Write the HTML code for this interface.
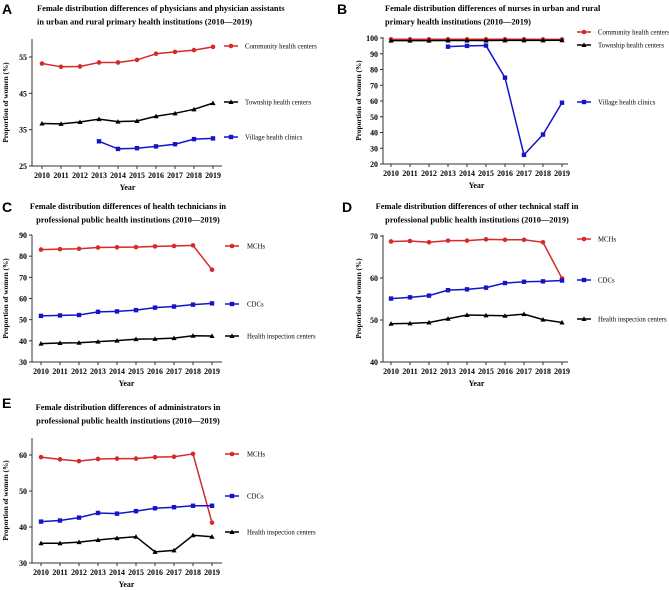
<!DOCTYPE html>
<html><head><meta charset="utf-8"><style>
body{margin:0;background:#fff;width:669px;height:590px;overflow:hidden}
svg{display:block}
text{font-family:"Liberation Serif",serif}
.t{font-weight:bold;font-size:8.4px}
.tk{font-weight:bold;font-size:7.9px}
.yt{font-weight:bold;font-size:7.3px}
.lg{font-size:6.8px}
.lt{font-family:"Liberation Sans",sans-serif;font-weight:bold;font-size:14px}
</style></head><body>
<svg id="c" width="669" height="590"></svg>
<script>
const years=[2010,2011,2012,2013,2014,2015,2016,2017,2018,2019];
const aCommunity=[53.2,52.3,52.4,53.5,53.5,54.2,55.9,56.4,56.9,57.8];
const aTownship=[36.7,36.6,37.1,37.9,37.2,37.4,38.7,39.5,40.6,42.3];
const aVillage=[null,null,null,31.8,29.7,29.9,30.4,31.0,32.4,32.6];
const bCommunity=[99.2,99.2,99.2,99.2,99.2,99.2,99.2,99.2,99.1,99.1];
const bTownship=[98.3,98.3,98.3,98.4,98.4,98.4,98.5,98.5,98.5,98.6];
const bVillage=[null,null,null,94.5,95.0,95.2,74.8,25.8,38.7,58.9];
const cMCH=[83.1,83.3,83.5,84.1,84.2,84.3,84.6,84.8,85.1,73.6];
const cCDC=[51.8,52.0,52.2,53.7,53.9,54.5,55.7,56.2,57.1,57.7];
const cHIC=[38.7,39.0,39.1,39.6,40.1,40.8,40.9,41.3,42.4,42.3];
const dMCH=[68.7,68.8,68.5,68.9,68.9,69.2,69.1,69.1,68.5,59.9];
const dCDC=[55.1,55.4,55.8,57.1,57.3,57.7,58.8,59.1,59.2,59.4];
const dHIC=[49.1,49.2,49.4,50.3,51.2,51.1,51.0,51.4,50.1,49.4];
const eMCH=[59.4,58.8,58.3,58.9,59.0,59.0,59.4,59.5,60.3,41.2];
const eCDC=[41.5,41.8,42.6,43.9,43.7,44.4,45.2,45.5,45.9,45.9];
const eHIC=[35.5,35.5,35.8,36.4,36.9,37.3,33.1,33.5,37.7,37.3];
const aTicks=[25,35,45,55], bTicks=[20,30,40,50,60,70,80,90,100], cTicks=[30,40,50,60,70,80,90], dTicks=[40,50,60,70], eTicks=[30,40,50,60];
const NS='http://www.w3.org/2000/svg', svg=document.getElementById('c');
function mk(tag,at,txt){const e=document.createElementNS(NS,tag);for(const k in at)e.setAttribute(k,at[k]);if(txt!=null)e.textContent=txt;svg.appendChild(e);return e;}
const RED='#d42a2a',BLK='#000',BLU='#1414c8';
function marker(x,y,c,shape,name){let e;
 if(shape==='c')e=mk('circle',{cx:x,cy:y,r:2.3,fill:c});
 else if(shape==='s')e=mk('rect',{x:x-2.2,y:y-2.2,width:4.4,height:4.4,fill:c});
 else e=mk('path',{d:`M${x} ${y-2.6}L${x+2.6} ${y+2}L${x-2.6} ${y+2}Z`,fill:c});
 
 }
function panel(p){
 const ys=v=>p.y0+(v-p.v0)*(p.y1-p.y0)/(p.v1-p.v0);
 const xs=i=>p.x0+i*(p.x1-p.x0)/9;
 let e=mk('text',{x:p.lx,y:p.ly,class:'lt'},p.letter);
 
 
 p.title.forEach((t,i)=>{const e=mk('text',{x:p.tx,y:p.ty+i*13.5,class:'t','text-anchor':p.ta},t);
  
  });
 e=mk('line',{x1:p.ax,y1:p.atop,x2:p.ax,y2:p.y0,stroke:'#333','stroke-width':1});
 
 
 e=mk('line',{x1:p.ax,y1:p.y0,x2:p.aend,y2:p.y0,stroke:'#333','stroke-width':1});
 
 
 p.ticks.forEach(v=>{const y=ys(v);mk('line',{x1:p.ax-3,y1:y,x2:p.ax,y2:y,stroke:'#333'});
  const t=mk('text',{x:p.ax-5,y:y+3,class:'tk','text-anchor':'end'},v);
  
  });
 years.forEach((yr,i)=>{const x=xs(i);mk('line',{x1:x,y1:p.y0,x2:x,y2:p.y0+3,stroke:'#333'});
  const t=mk('text',{x:x,y:p.y0+12,class:'tk','text-anchor':'middle'},yr);
  
  });
 e=mk('text',{x:(p.x0+p.x1)/2,y:p.y0+24,class:'tk','text-anchor':'middle'},'Year');
 
 
 const my=(p.atop+p.y0)/2;
 e=mk('text',{x:p.yt,y:my,class:'yt','text-anchor':'middle',transform:`rotate(-90 ${p.yt} ${my})`},'Proportion of women (%)');
 
 
 p.series.forEach(s=>{
  let d='';s.data.forEach((v,i)=>{if(v==null)return;d+=(d?'L':'M')+xs(i)+' '+ys(v);});
  const l=mk('path',{d:d,fill:'none',stroke:s.c,'stroke-width':1.5});
  
  
  s.data.forEach((v,i)=>{if(v==null)return;marker(xs(i),ys(v),s.c,s.m,'point-'+s.id);});
  mk('line',{x1:p.gx,y1:s.ly,x2:p.gx+14,y2:s.ly,stroke:s.c,'stroke-width':1.5});
  marker(p.gx+7,s.ly,s.c,s.m,'legend-marker');
  const t=mk('text',{x:p.gt,y:s.ly+2.5,class:'lg'},s.name);
  
  });
}
panel({letter:'A',lx:2,ly:14,title:['Female distribution differences of physicians and physician assistants','in urban and rural primary health institutions (2010\u20142019)'],tx:37,ty:11,ta:'start',
 ax:32,atop:39,aend:222,x0:42,x1:213,y0:166,y1:57,v0:25,v1:55,ticks:aTicks,yt:8,gx:224,gt:245,
 series:[{id:'community',name:'Community health centers',data:aCommunity,c:RED,m:'c',ly:46},
 {id:'township',name:'Township health centers',data:aTownship,c:BLK,m:'t',ly:102},
 {id:'village',name:'Village health clinics',data:aVillage,c:BLU,m:'s',ly:137}]});
panel({letter:'B',lx:337,ly:14,title:['Female distribution differences of nurses in urban and rural','primary health institutions (2010\u20142019)'],tx:385,ty:11,ta:'start',
 ax:383,atop:37,aend:568,x0:391,x1:562,y0:164,y1:38,v0:20,v1:100,ticks:bTicks,yt:361,gx:577,gt:598,
 series:[{id:'community',name:'Community health centers',data:bCommunity,c:RED,m:'c',ly:32},
 {id:'township',name:'Township health centers',data:bTownship,c:BLK,m:'t',ly:45},
 {id:'village',name:'Village health clinics',data:bVillage,c:BLU,m:'s',ly:102}]});
panel({letter:'C',lx:2,ly:212,title:['Female distribution differences of health technicians in','professional public health institutions (2010\u20142019)'],tx:128,ty:209,ta:'middle',
 ax:32,atop:235,aend:222,x0:41,x1:212,y0:362,y1:235,v0:30,v1:90,ticks:cTicks,yt:8,gx:225,gt:247,
 series:[{id:'mch',name:'MCHs',data:cMCH,c:RED,m:'c',ly:246},
 {id:'cdc',name:'CDCs',data:cCDC,c:BLU,m:'s',ly:304},
 {id:'hic',name:'Health inspection centers',data:cHIC,c:BLK,m:'t',ly:336}]});
panel({letter:'D',lx:342,ly:212,title:['Female distribution differences of other technical staff in','professional public health institutions (2010\u20142019)'],tx:477,ty:209,ta:'middle',
 ax:383,atop:235,aend:568,x0:391,x1:562,y0:362,y1:236,v0:40,v1:70,ticks:dTicks,yt:361,gx:577,gt:598,
 series:[{id:'mch',name:'MCHs',data:dMCH,c:RED,m:'c',ly:239},
 {id:'cdc',name:'CDCs',data:dCDC,c:BLU,m:'s',ly:280},
 {id:'hic',name:'Health inspection centers',data:dHIC,c:BLK,m:'t',ly:319}]});
panel({letter:'E',lx:2,ly:408,title:['Female distribution differences of administrators in','professional public health institutions (2010\u20142019)'],tx:128,ty:410,ta:'middle',
 ax:32,atop:438,aend:222,x0:41,x1:212,y0:563,y1:455,v0:30,v1:60,ticks:eTicks,yt:8,gx:225,gt:247,
 series:[{id:'mch',name:'MCHs',data:eMCH,c:RED,m:'c',ly:454},
 {id:'cdc',name:'CDCs',data:eCDC,c:BLU,m:'s',ly:496},
 {id:'hic',name:'Health inspection centers',data:eHIC,c:BLK,m:'t',ly:532}]});
</script>
</body></html>
